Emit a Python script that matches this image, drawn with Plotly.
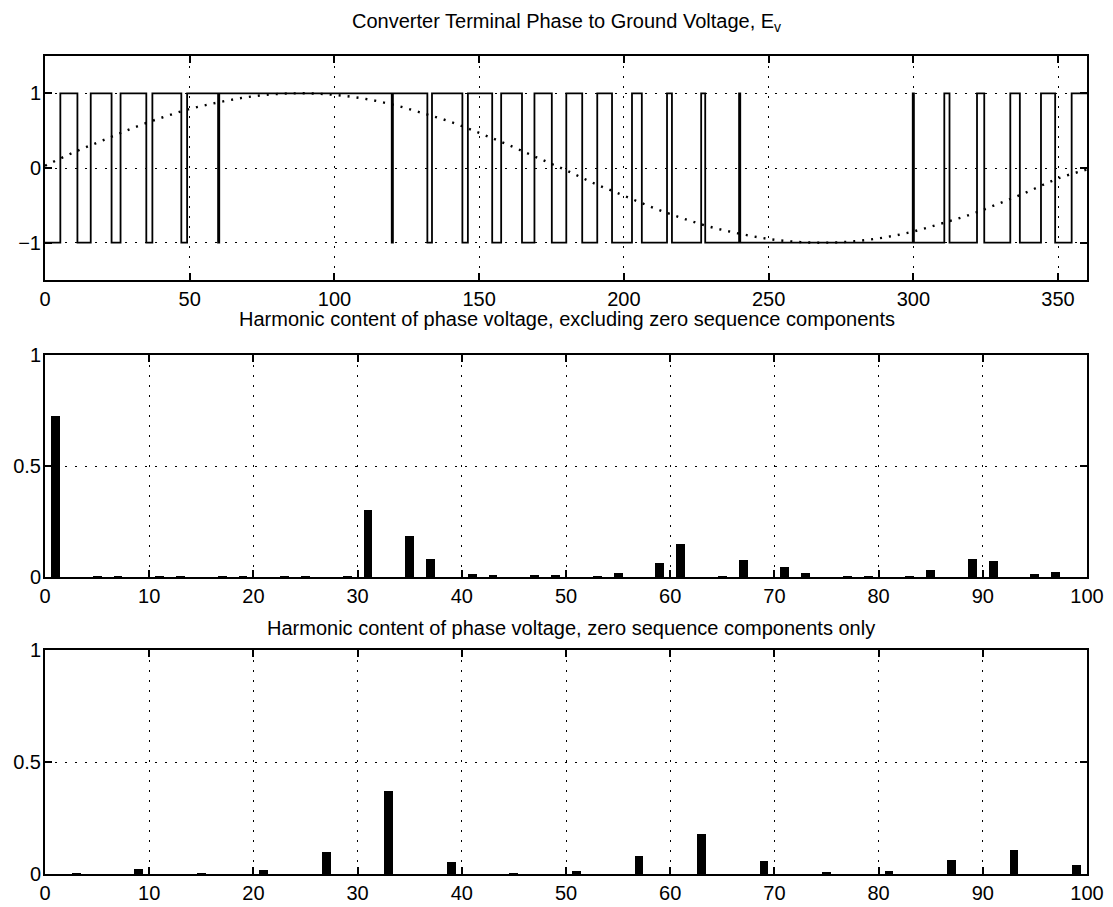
import plotly.graph_objects as go

# ---------------- data ----------------
# Top panel: switching angles (degrees) of the converter terminal voltage
start_level = -1
switch_deg = [5.3, 11.2, 15.8, 23.0, 26.1, 35.0, 37.1, 47.1, 49.1, 59.8, 60.2,
              119.8, 120.2, 132.1, 133.7, 144.2, 146.1, 154.5, 157.6, 164.8, 169.1,
              175.1, 180.1, 185.6, 190.8, 195.9, 202.8, 206.2, 214.9, 216.6, 226.7,
              228.1, 239.8, 240.2, 299.8, 300.2, 310.7, 312.5, 322.0, 324.5, 333.5,
              336.8, 344.1, 349.0, 354.7]
end_deg = 360

# Dotted reference (read every 10 degrees)
ref_deg = list(range(0, 361, 10))
ref_val = [0.03, 0.21, 0.37, 0.53, 0.67, 0.79, 0.88, 0.95, 0.99, 1.00,
           0.98, 0.93, 0.85, 0.74, 0.62, 0.47, 0.31, 0.14, -0.03, -0.21,
           -0.37, -0.53, -0.67, -0.79, -0.88, -0.95, -0.99, -1.00, -0.98, -0.93,
           -0.85, -0.74, -0.62, -0.47, -0.31, -0.14, -0.02]

# Middle panel: harmonics excluding zero sequence
h_pos = [1, 5, 7, 11, 13, 17, 19, 23, 25, 29, 31, 35, 37, 41, 43, 47, 49, 53, 55,
         59, 61, 65, 67, 71, 73, 77, 79, 83, 85, 89, 91, 95, 97]
v_pos = [0.725, 0.002, 0.002, 0.001, 0.001, 0.001, 0.001, 0.002, 0.001, 0.001, 0.30,
         0.184, 0.08, 0.014, 0.006, 0.005, 0.008, 0.004, 0.019,
         0.061, 0.149, 0.002, 0.075, 0.043, 0.018, 0.002, 0.004, 0.002, 0.03,
         0.081, 0.071, 0.012, 0.023]

# Bottom panel: zero sequence harmonics only
h_zero = [3, 9, 15, 21, 27, 33, 39, 45, 51, 57, 63, 69, 75, 81, 87, 93, 99]
v_zero = [0.002, 0.024, 0.003, 0.02, 0.098, 0.37, 0.055, 0.004, 0.015, 0.079,
          0.178, 0.057, 0.005, 0.015, 0.063, 0.107, 0.038]

title_top = "Converter Terminal Phase to Ground Voltage, E<sub>v</sub>"
title_mid = "Harmonic content of phase voltage, excluding zero sequence components"
title_bot = "Harmonic content of phase voltage, zero sequence components only"

# ---------------- build step waveform ----------------
wx = [0]
wy = [start_level]
lvl = start_level
for s in switch_deg:
    lvl = -lvl
    wx.append(s)
    wy.append(lvl)
wx.append(end_deg)
wy.append(lvl)

# page has an 8px body margin, so the figure is laid out in shifted pixels
OFF = 8
W, H = 1113 - OFF, 907 - OFF
FONT = "Liberation Sans, Arial, Helvetica, sans-serif"

fig = go.Figure()
fig.add_trace(go.Scatter(x=wx, y=wy, mode="lines", line=dict(color="black", width=1.8, shape="hv"),
                         xaxis="x", yaxis="y", showlegend=False))
fig.add_trace(go.Scatter(x=ref_deg, y=ref_val, mode="lines",
                         line=dict(color="black", width=2.4, dash="2px,7px", shape="spline"),
                         xaxis="x", yaxis="y", showlegend=False))
fig.add_trace(go.Bar(x=h_pos, y=v_pos, width=0.85, marker=dict(color="black", line=dict(width=0)),
                     xaxis="x2", yaxis="y2", showlegend=False))
fig.add_trace(go.Bar(x=h_zero, y=v_zero, width=0.85, marker=dict(color="black", line=dict(width=0)),
                     xaxis="x3", yaxis="y3", showlegend=False))

def dom(top_px, bot_px):
    return [1 - (bot_px - OFF) / H, 1 - (top_px - OFF) / H]

xdom = [(45 - OFF) / W, (1087 - OFF) / W]
axis_common = dict(showline=True, linecolor="black", linewidth=2, mirror="ticks",
                   ticks="inside", ticklen=7, tickcolor="black", tickwidth=1.5,
                   showgrid=True, gridcolor="black", gridwidth=1.3, griddash="2px,8px",
                   zeroline=False, automargin=False,
                   tickfont=dict(family=FONT, size=20, color="black"))

fig.update_layout(
    width=W, height=H, margin=dict(l=0, r=0, t=0, b=0, autoexpand=False),
    paper_bgcolor="white", plot_bgcolor="white", bargap=0,
    xaxis=dict(domain=xdom, range=[0, 360], tickvals=[0, 50, 100, 150, 200, 250, 300, 350],
               anchor="y", **axis_common),
    yaxis=dict(domain=dom(56, 280), range=[-1.5, 1.5], tickvals=[-1, 0, 1],
               anchor="x", ticklabelstandoff=-2, **axis_common),
    xaxis2=dict(domain=xdom, range=[0, 100], dtick=10, tick0=0, anchor="y2", **axis_common),
    yaxis2=dict(domain=dom(355, 577), range=[0, 1], tickvals=[0, 0.5, 1],
                ticktext=["0", "0.5", "1"], anchor="x2", ticklabelstandoff=-2, **axis_common),
    xaxis3=dict(domain=xdom, range=[0, 100], dtick=10, tick0=0, anchor="y3", **axis_common),
    yaxis3=dict(domain=dom(650, 874), range=[0, 1], tickvals=[0, 0.5, 1],
                ticktext=["0", "0.5", "1"], anchor="x3", ticklabelstandoff=-2, **axis_common),
    font=dict(family=FONT, color="black"),
)

for txt, cx, cy in [(title_top, 566, 22), (title_mid, 567, 319), (title_bot, 571, 628)]:
    fig.add_annotation(text=txt, x=(cx - OFF) / W, y=1 - (cy - OFF) / H, xref="paper", yref="paper",
                       xanchor="center", yanchor="middle", showarrow=False,
                       font=dict(family=FONT, size=20, color="black"))

fig.write_html("out.html")
